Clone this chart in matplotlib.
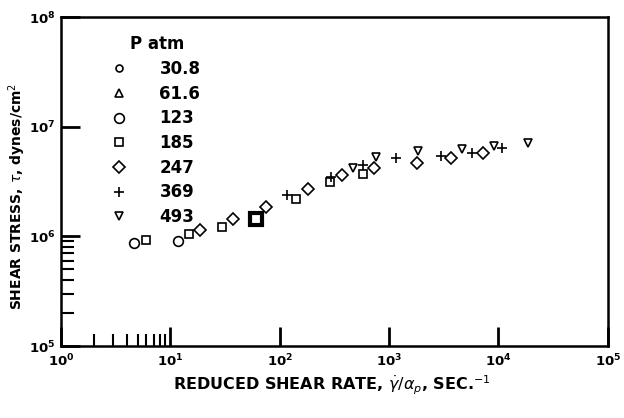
import matplotlib.pyplot as plt
from matplotlib.lines import Line2D
from matplotlib.ticker import LogLocator, NullFormatter, FixedLocator

# pressures (legend) and markers
pressures = ["30.8", "61.6", "123", "185", "247", "369", "493"]
markers = ["o", "^", "o", "s", "D", "+", "v"]
msizes = [5, 6, 7, 6, 6, 7, 6]

# data: reduced shear rate (1/s), shear stress (dyn/cm2)
p123_x = [4.65, 11.7]
p123_y = [8.7e5, 9.06e5]

p185_x = [5.98, 14.8, 29.6, 141, 288, 576]
p185_y = [9.25e5, 1.05e6, 1.22e6, 2.19e6, 3.13e6, 3.70e6]

bold_x = [60.6]
bold_y = [1.44e6]

p247_x = [18.6, 37.3, 74.8, 181, 370, 727, 1796, 3670, 7200]
p247_y = [1.14e6, 1.44e6, 1.85e6, 2.70e6, 3.62e6, 4.20e6, 4.66e6, 5.18e6, 5.75e6]

p369_x = [116, 294, 576, 1153, 2973, 5710, 10740]
p369_y = [2.38e6, 3.48e6, 4.47e6, 5.18e6, 5.40e6, 5.75e6, 6.38e6]

p493_x = [467, 757, 1833, 4630, 9080, 18580]
p493_y = [4.20e6, 5.29e6, 6.0e6, 6.25e6, 6.66e6, 7.1e6]

fig = plt.figure(figsize=(6.24, 4.18), dpi=100)
ax = fig.add_axes([0.098, 0.172, 0.876, 0.787])

kw = dict(linestyle="none", color="black", mfc="none", mew=1.2)
ax.plot(p123_x, p123_y, marker="o", ms=7, **kw)
ax.plot(p185_x, p185_y, marker="s", ms=6, **kw)
ax.plot(bold_x, bold_y, marker="s", ms=8, linestyle="none", color="black", mfc="none", mew=3)
ax.plot(p247_x, p247_y, marker="D", ms=6, **kw)
ax.plot(p369_x, p369_y, marker="+", ms=7, **kw)
ax.plot(p493_x, p493_y, marker="v", ms=6, **kw)

ax.set_xscale("log")
ax.set_yscale("log")
ax.set_xlim(1, 1e5)
ax.set_ylim(1e5, 1e8)

for s in ax.spines.values():
    s.set_linewidth(1.8)

ax.xaxis.set_major_locator(LogLocator(base=10, numticks=10))
ax.yaxis.set_major_locator(LogLocator(base=10, numticks=10))
ax.xaxis.set_minor_locator(FixedLocator([2, 3, 4, 5, 6, 7, 8, 9]))
ax.yaxis.set_minor_locator(FixedLocator([2e5, 3e5, 4e5, 5e5, 6e5, 7e5, 8e5, 9e5]))
ax.xaxis.set_minor_formatter(NullFormatter())
ax.yaxis.set_minor_formatter(NullFormatter())
ax.tick_params(which="major", direction="in", length=14, width=2, labelsize=9.5)
ax.tick_params(axis="x", which="major", pad=5)
ax.tick_params(axis="y", which="major", pad=4)
ax.tick_params(which="minor", direction="in", length=9, width=1.5)
ax.tick_params(top=False, right=False)
for lab in ax.get_xticklabels() + ax.get_yticklabels():
    lab.set_fontweight("bold")

ax.set_xlabel(r"REDUCED SHEAR RATE, $\dot{\gamma}/\alpha_{p}$, SEC.$^{-1}$",
              fontsize=11.5, fontweight="bold")
ax.xaxis.set_label_coords(0.495, -0.085)
ax.set_ylabel(r"SHEAR STRESS, $\tau$, dynes/cm$^{2}$",
              fontsize=10, fontweight="bold")
ax.yaxis.set_label_coords(-0.06, 0.456)

handles = [Line2D([], [], marker=m, ms=s, **kw) for m, s in zip(markers, msizes)]
leg = ax.legend(handles, pressures, title="P atm", loc="upper left",
                bbox_to_anchor=(0.07, 0.99), frameon=False, fontsize=12,
                title_fontsize=12, handlelength=0.6, handletextpad=2.1,
                labelspacing=0.4)
for t in leg.get_texts():
    t.set_fontweight("bold")
leg.get_title().set_fontweight("bold")

fig.savefig("out.png", dpi=100)
